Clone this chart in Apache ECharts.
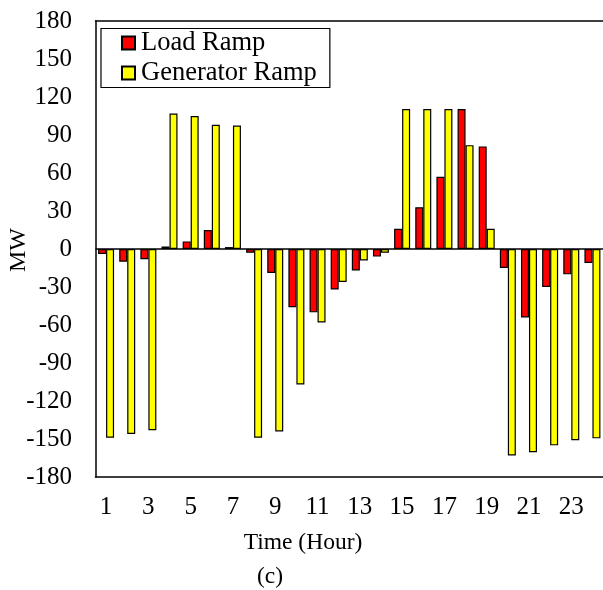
<!DOCTYPE html>
<html>
<head>
<meta charset="utf-8">
<script src="https://cdn.jsdelivr.net/npm/echarts@6/dist/echarts.min.js"></script>
<style>
html,body{margin:0;padding:0;background:#fff;}
#c{width:603px;height:590px;}
</style>
</head>
<body>
<div id="c"></div>
<script>
var hours = ["1","2","3","4","5","6","7","8","9","10","11","12","13","14","15","16","17","18","19","20","21","22","23","24"];
var loadRamp = [-4,-10,-8,2,6,15,1.5,-3,-19,-46,-50,-32,-17,-6,16,33,57,110.5,81,-15,-54,-30,-20,-11];
var genRamp = [-149,-146,-143,107,105,98,97.5,-149,-144,-107,-58,-26,-9,-3,110.5,110.5,110.5,82,16,-163,-160.5,-155,-151,-149.5];
var yMin = -180, yMax = 180, yStep = 30;

var FONT = '"Liberation Serif","Times New Roman",serif';
var chart = echarts.init(document.getElementById('c'));
chart.setOption({
  animation: false,
  backgroundColor: '#fff',
  grid: {left: 95.5, top: 21, right: -1, bottom: 113, show: false},
  legend: {
    orient: 'vertical', left: 101, top: 28.5,
    backgroundColor: '#fff',
    borderColor: '#000', borderWidth: 1.2,
    padding: [1, 13, 1, 20],
    itemWidth: 13, itemHeight: 13, itemGap: 3,
    icon: 'rect',
    textStyle: {fontFamily: FONT, fontSize: 26.5, color: '#000', lineHeight: 25, padding: [0,0,0,1]},
    data: ['Load Ramp', 'Generator Ramp']
  },
  xAxis: [{
    type: 'category', data: hours, position: 'bottom',
    axisLine: {show: true, onZero: false, lineStyle: {color: '#000', width: 1.5}},
    axisTick: {show: false},
    axisLabel: {interval: 1, fontFamily: FONT, fontSize: 25, color: '#000', margin: 18}
  }, {
    type: 'category', data: hours, position: 'top',
    axisLine: {show: true, onZero: false, lineStyle: {color: '#000', width: 1.5}},
    axisTick: {show: false},
    axisLabel: {show: false}
  }],
  yAxis: {
    type: 'value', min: yMin, max: yMax, interval: yStep,
    axisLine: {show: true, lineStyle: {color: '#000', width: 1.5}},
    axisTick: {show: false},
    splitLine: {show: false},
    axisLabel: {fontFamily: FONT, fontSize: 25, color: '#000', margin: 23.5}
  },
  graphic: [
    {type: 'text', x: 303, y: 543, style: {text: 'Time (Hour)', font: '23.5px ' + FONT, fill: '#000', align: 'center', verticalAlign: 'middle'}},
    {type: 'text', x: 270, y: 577, style: {text: '(c)', font: '23.5px ' + FONT, fill: '#000', align: 'center', verticalAlign: 'middle'}},
    {type: 'text', x: 19, y: 250, rotation: Math.PI / 2, style: {text: 'MW', font: '24px ' + FONT, fill: '#000', align: 'center', verticalAlign: 'middle'}}
  ],
  series: [
    {
      name: 'Load Ramp', type: 'bar', data: loadRamp, xAxisIndex: 0,
      barWidth: 8, barGap: '0%',
      itemStyle: {color: '#FF0000', borderColor: '#000', borderWidth: 1.2},
      markLine: {silent: true, symbol: 'none', label: {show: false},
        lineStyle: {color: '#000', width: 1.5, type: 'solid'}, data: [{yAxis: 0}]}
    },
    {
      name: 'Generator Ramp', type: 'bar', data: genRamp, xAxisIndex: 0,
      barWidth: 8, barGap: '0%',
      itemStyle: {color: '#FFFF00', borderColor: '#000', borderWidth: 1.2}
    }
  ]
});
</script>
</body>
</html>
